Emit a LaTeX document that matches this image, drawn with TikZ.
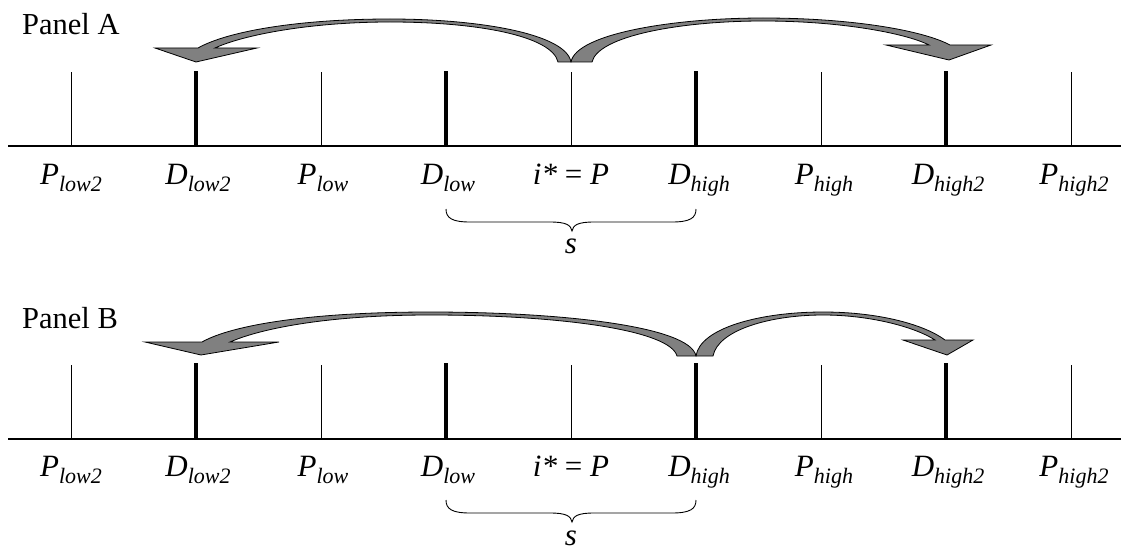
\documentclass[tikz,border=0pt]{standalone}
\usepackage{fontspec}
\setmainfont{Liberation Serif}
\definecolor{arrowgray}{RGB}{128,128,128}
\newcommand{\lbl}[2]{{\itshape #1\raisebox{-7pt}{\fontsize{22}{22}\selectfont #2}}}
\begin{document}
\begin{tikzpicture}[x=1pt,y=-1pt,
  axisline/.style={line width=1.3pt},
  thintick/.style={line width=1pt},
  thicktick/.style={line width=3.4pt},
  lab/.style={anchor=base,inner sep=0pt,font=\fontsize{31}{31}\selectfont},
  paneltitle/.style={anchor=base west,inner sep=0pt,font=\fontsize{30.5}{30.5}\selectfont},
  bigarrow/.style={fill=arrowgray,draw=black,line width=0.8pt,line join=miter},
  bracestyle/.style={line width=0.9pt}]
\useasboundingbox (0,0) rectangle (1129,551);

% ---------- Panel A ----------
\node[paneltitle] (titleA) at (22,35) {Panel A};
\coordinate (axAl) at (8,146);
\coordinate (axAr) at (1121,146);
\draw[axisline] (axAl) -- (axAr);
\foreach \x in {71,321,571,821,1071}
  \draw[thintick] (\x,72) -- (\x,146);
\foreach \x in {196,446,696,946}
  \draw[thicktick] (\x,71) -- (\x,146);
\node[lab] (a1) at (71,184) {\lbl{P}{low2}};
\node[lab] (a2) at (198,184) {\lbl{D}{low2}};
\node[lab] (a3) at (323,184) {\lbl{P}{low}};
\node[lab] (a4) at (448,184) {\lbl{D}{low}};
\node[lab] (a5) at (571,184) {{\itshape i*} = {\itshape P}};
\node[lab] (a6) at (699,184) {\lbl{D}{high}};
\node[lab] (a7) at (824,184) {\lbl{P}{high}};
\node[lab] (a8) at (948,184) {\lbl{D}{high2}};
\node[lab] (a9) at (1074,184) {\lbl{P}{high2}};
\draw[bracestyle] (446,209) .. controls (446,218) and (452,222) .. (470,222) -- (550,222)
  .. controls (566,222) and (571,225) .. (572,231)
  .. controls (573,225) and (578,222) .. (594,222) -- (672,222)
  .. controls (690,222) and (696,218) .. (696,209);
\node[lab] (sA) at (571,253) {\itshape s};
% left curved arrow A
\draw[bigarrow] (571,62) .. controls (566,34) and (480,19) .. (390,19)
  .. controls (300,19) and (228,31) .. (198,48) -- (155,48) -- (196,62) -- (257,48) -- (215,48)
  .. controls (243,35) and (310,22) .. (390,22)
  .. controls (478,22) and (552,36) .. (558,62) -- cycle;
% right curved arrow A
\draw[bigarrow] (571,62) .. controls (576,34) and (672,18) .. (763,18)
  .. controls (850,18) and (922,30) .. (950,45) -- (991,45) -- (949,60) -- (886,45) -- (929,45)
  .. controls (905,33) and (840,21) .. (763,21)
  .. controls (680,21) and (598,36) .. (592,62) -- cycle;

% ---------- Panel B ----------
\node[paneltitle] (titleB) at (22,328) {Panel B};
\coordinate (axBl) at (8,439);
\coordinate (axBr) at (1121,439);
\draw[axisline] (axBl) -- (axBr);
\foreach \x in {71,321,571,821,1071}
  \draw[thintick] (\x,365) -- (\x,439);
\foreach \x in {196,446,696,946}
  \draw[thicktick] (\x,363) -- (\x,439);
\node[lab] (b1) at (71,476) {\lbl{P}{low2}};
\node[lab] (b2) at (198,476) {\lbl{D}{low2}};
\node[lab] (b3) at (323,476) {\lbl{P}{low}};
\node[lab] (b4) at (448,476) {\lbl{D}{low}};
\node[lab] (b5) at (571,476) {{\itshape i*} = {\itshape P}};
\node[lab] (b6) at (699,476) {\lbl{D}{high}};
\node[lab] (b7) at (824,476) {\lbl{P}{high}};
\node[lab] (b8) at (948,476) {\lbl{D}{high2}};
\node[lab] (b9) at (1074,476) {\lbl{P}{high2}};
\draw[bracestyle] (446,500) .. controls (446,509) and (452,513) .. (470,513) -- (550,513)
  .. controls (566,513) and (571,516) .. (572,522)
  .. controls (573,516) and (578,513) .. (594,513) -- (672,513)
  .. controls (690,513) and (696,509) .. (696,500);
\node[lab] (sB) at (571,545) {\itshape s};
% left curved arrow B
\draw[bigarrow] (696,356) .. controls (690,326) and (560,312) .. (430,312)
  .. controls (310,312) and (232,325) .. (202,342) -- (145,342) -- (201,355) -- (279,342) -- (230,342)
  .. controls (262,328) and (330,315) .. (430,315)
  .. controls (560,315) and (670,330) .. (677,356) -- cycle;
% right curved arrow B
\draw[bigarrow] (696,356) .. controls (700,328) and (760,312) .. (823,312)
  .. controls (880,312) and (925,325) .. (945,340) -- (973,340) -- (947,355) -- (903,340) -- (935,340)
  .. controls (915,327) and (870,315) .. (823,315)
  .. controls (770,315) and (718,330) .. (713,356) -- cycle;
\end{tikzpicture}
\end{document}
